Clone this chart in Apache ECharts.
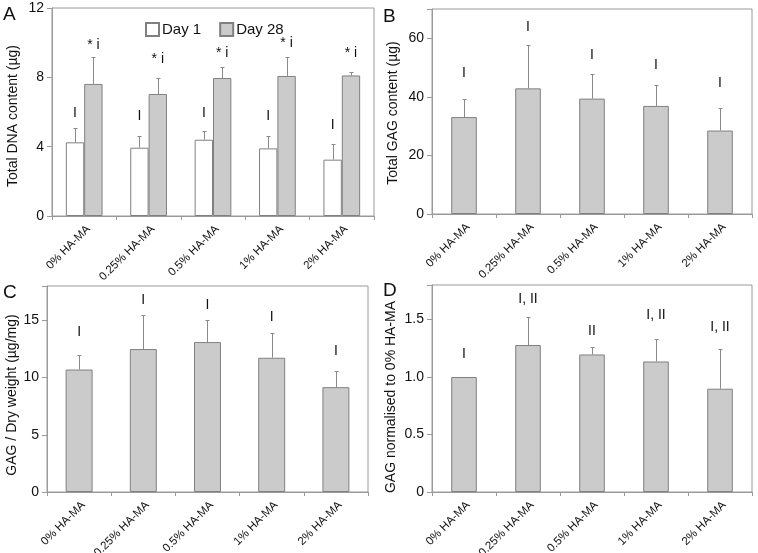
<!DOCTYPE html>
<html><head><meta charset="utf-8">
<script src="https://cdn.jsdelivr.net/npm/echarts@6/dist/echarts.min.js"></script>
<style>html,body{margin:0;padding:0;background:#fff}#c{width:758px;height:553px}</style>
</head><body><div id="c"></div>
<script>
// ---------- data ----------
const categories = ['0% HA-MA', '0.25% HA-MA', '0.5% HA-MA', '1% HA-MA', '2% HA-MA'];

// Panel A: Total DNA content (µg)
const dnaDay1 = [4.25, 3.94, 4.40, 3.90, 3.25];
const dnaDay1Sd = [0.83, 0.69, 0.52, 0.73, 0.92];
const dnaDay1Marks = ['I', 'I', 'I', 'I', 'I'];
const dnaDay1MarkY = [5.96, 5.78, 5.96, 5.78, 5.27];
const dnaDay28 = [7.62, 7.04, 7.96, 8.08, 8.11];
const dnaDay28Sd = [1.55, 0.92, 0.63, 1.09, 0.18];
const dnaDay28Marks = ['* i', '* i', '* i', '* i', '* i'];
const dnaDay28MarkY = [9.87, 9.06, 9.41, 9.99, 9.41];
const dnaTicks = [0, 4, 8, 12];

// Panel B: Total GAG content (µg)
const gag = [33.1, 42.9, 39.4, 36.9, 28.5];
const gagSd = [6.1, 14.8, 8.4, 7.1, 7.6];
const gagMarks = ['I', 'I', 'I', 'I', 'I'];
const gagMarkY = [48.2, 63.9, 54.4, 51.0, 44.7];
const gagTicks = [0, 20, 40, 60];
const gagMax = 70;

// Panel C: GAG / Dry weight (µg/mg)
const gagDry = [10.70, 12.49, 13.10, 11.73, 9.16];
const gagDrySd = [1.23, 3.01, 1.90, 2.13, 1.43];
const gagDryMarks = ['I', 'I', 'I', 'I', 'I'];
const gagDryMarkY = [13.96, 16.76, 16.32, 15.30, 12.30];
const gagDryTicks = [0, 5, 10, 15];
const gagDryMax = 18;

// Panel D: GAG normalised to 0% HA-MA
const gagNorm = [1.0, 1.278, 1.196, 1.135, 0.898];
const gagNormSd = [0, 0.242, 0.062, 0.198, 0.348];
const gagNormMarks = ['I', 'I, II', 'II', 'I, II', 'I, II'];
const gagNormMarkY = [1.20, 1.68, 1.40, 1.535, 1.433];
const gagNormTicks = [0, 0.5, 1.0, 1.5];
const gagNormMax = 1.8;

const axisNames = ['Total DNA content (µg)', 'Total GAG content (µg)', 'GAG / Dry weight (µg/mg)', 'GAG normalised to 0% HA-MA'];
const panelLetters = ['A', 'B', 'C', 'D'];

// ---------- style ----------
const FONT = 'Liberation Sans, Arial, sans-serif';
const AXIS_C = '#9a9a9a';
const GREY = '#cbcbcb';
const EDGE = '#808080';
const ERR_C = '#8a8a8a';
const TXT = '#111';

const grids = [
  {left: 52, top: 8, width: 322, height: 208},
  {left: 432, top: 9, width: 320, height: 205},
  {left: 47, top: 286, width: 321, height: 206},
  {left: 432, top: 285, width: 320, height: 207}
].map(g => Object.assign(g, {show: true, borderColor: AXIS_C, borderWidth: 1, backgroundColor: 'transparent',
  containLabel: false, outerBoundsMode: 'none'}));

// y-axis name placement (centre of rotated text)
const namePos = [[13, 116], [393, 113], [12, 395], [391, 397]];
const letterPos = [[3, 5], [383, 7], [3, 283], [383, 281]];

function xAxis(i) {
  return {
    type: 'category', gridIndex: i, data: categories,
    axisLine: {lineStyle: {color: AXIS_C}},
    axisTick: {show: true, length: 4, lineStyle: {color: AXIS_C}},
    axisLabel: {rotate: 45, fontSize: 11.5, fontFamily: FONT, color: TXT, margin: 7, interval: 0,
      align: 'right', verticalAlign: 'top'},
    splitLine: {show: false}
  };
}
function yAxis(i, ticks, max, fmt) {
  const interval = ticks[1] - ticks[0];
  return {
    type: 'value', gridIndex: i, min: ticks[0], max: max, interval: interval,
    axisLine: {show: true, lineStyle: {color: AXIS_C}},
    axisTick: {show: true, length: 5, lineStyle: {color: AXIS_C}},
    axisLabel: {fontSize: 14, fontFamily: FONT, color: TXT, margin: 8,
      formatter: v => (ticks.some(t => Math.abs(t - v) < 1e-9) ? (fmt ? fmt(v) : String(v)) : '')},
    splitLine: {show: false}
  };
}

function errSeries(gi, vals, sds, marks, markY, gapFrac, nBars, side) {
  return {
    type: 'custom', xAxisIndex: gi, yAxisIndex: gi, z: 5, silent: true,
    data: vals.map((v, i) => [i, v, v + sds[i], markY[i], sds[i]]),
    encode: {x: 0, y: [1, 2, 3]},
    renderItem: function (params, api) {
      const i = api.value(0);
      const band = api.size([1, 0])[0];
      const bw = band * (1 - gapFrac) / nBars;
      const off = side * bw / 2;
      const p0 = api.coord([i, api.value(1)]);
      const p1 = api.coord([i, api.value(2)]);
      const pl = api.coord([i, api.value(3)]);
      const x = Math.round(p0[0] + off) + 0.5;
      const children = [];
      if (api.value(4) > 0) {
        const yt = Math.round(p1[1]) + 0.5;
        children.push({type: 'line', shape: {x1: x, y1: p0[1], x2: x, y2: yt}, style: {stroke: ERR_C, lineWidth: 1}});
        children.push({type: 'line', shape: {x1: x - 2, y1: yt, x2: x + 2, y2: yt}, style: {stroke: ERR_C, lineWidth: 1}});
      }
      children.push({type: 'text', style: {text: marks[i], x: p0[0] + off, y: pl[1], align: 'center', verticalAlign: 'middle',
        fontSize: 14, fontFamily: FONT, fill: TXT}});
      return {type: 'group', children: children};
    }
  };
}

function barSeries(gi, name, vals, color, gap, bgap) {
  return {
    type: 'bar', name: name, xAxisIndex: gi, yAxisIndex: gi, data: vals,
    barCategoryGap: gap, barGap: bgap,
    itemStyle: {color: color, borderColor: EDGE, borderWidth: 1},
    emphasis: {disabled: true}
  };
}

const graphics = [];
axisNames.forEach((t, i) => graphics.push({
  type: 'text', x: namePos[i][0], y: namePos[i][1], rotation: Math.PI / 2, silent: true,
  style: {text: t, align: 'center', verticalAlign: 'middle', fontSize: 14, fontFamily: FONT, fill: TXT}
}));
panelLetters.forEach((t, i) => graphics.push({
  type: 'text', x: letterPos[i][0], y: letterPos[i][1], silent: true,
  style: {text: t, fontSize: 19, fontFamily: FONT, fill: TXT}
}));

const option = {
  animation: false,
  backgroundColor: '#fff',
  graphic: graphics,
  legend: {
    data: ['Day 1', 'Day 28'], left: 140, top: 17, itemWidth: 13, itemHeight: 13, itemGap: 18,
    icon: 'rect', textStyle: {fontSize: 15, fontFamily: FONT, color: TXT, padding: [0, 0, 0, -2]}, selectedMode: false
  },
  grid: grids,
  xAxis: [xAxis(0), xAxis(1), xAxis(2), xAxis(3)],
  yAxis: [
    yAxis(0, dnaTicks, dnaTicks[dnaTicks.length - 1]),
    yAxis(1, gagTicks, gagMax),
    yAxis(2, gagDryTicks, gagDryMax),
    yAxis(3, gagNormTicks, gagNormMax, v => (v === 0 ? '0' : v.toFixed(1)))
  ],
  series: [
    barSeries(0, 'Day 1', dnaDay1, '#ffffff', '43%', '0%'),
    barSeries(0, 'Day 28', dnaDay28, GREY, '43%', '0%'),
    errSeries(0, dnaDay1, dnaDay1Sd, dnaDay1Marks, dnaDay1MarkY, 0.43, 2, -1),
    errSeries(0, dnaDay28, dnaDay28Sd, dnaDay28Marks, dnaDay28MarkY, 0.43, 2, 1),
    barSeries(1, 'Total GAG', gag, GREY, '60%', '0%'),
    errSeries(1, gag, gagSd, gagMarks, gagMarkY, 0.60, 1, 0),
    barSeries(2, 'GAG/DW', gagDry, GREY, '58%', '0%'),
    errSeries(2, gagDry, gagDrySd, gagDryMarks, gagDryMarkY, 0.58, 1, 0),
    barSeries(3, 'GAG norm', gagNorm, GREY, '60%', '0%'),
    errSeries(3, gagNorm, gagNormSd, gagNormMarks, gagNormMarkY, 0.60, 1, 0)
  ]
};

const chart = echarts.init(document.getElementById('c'), null, {renderer: 'canvas'});
chart.setOption(option);
</script>
</body></html>
